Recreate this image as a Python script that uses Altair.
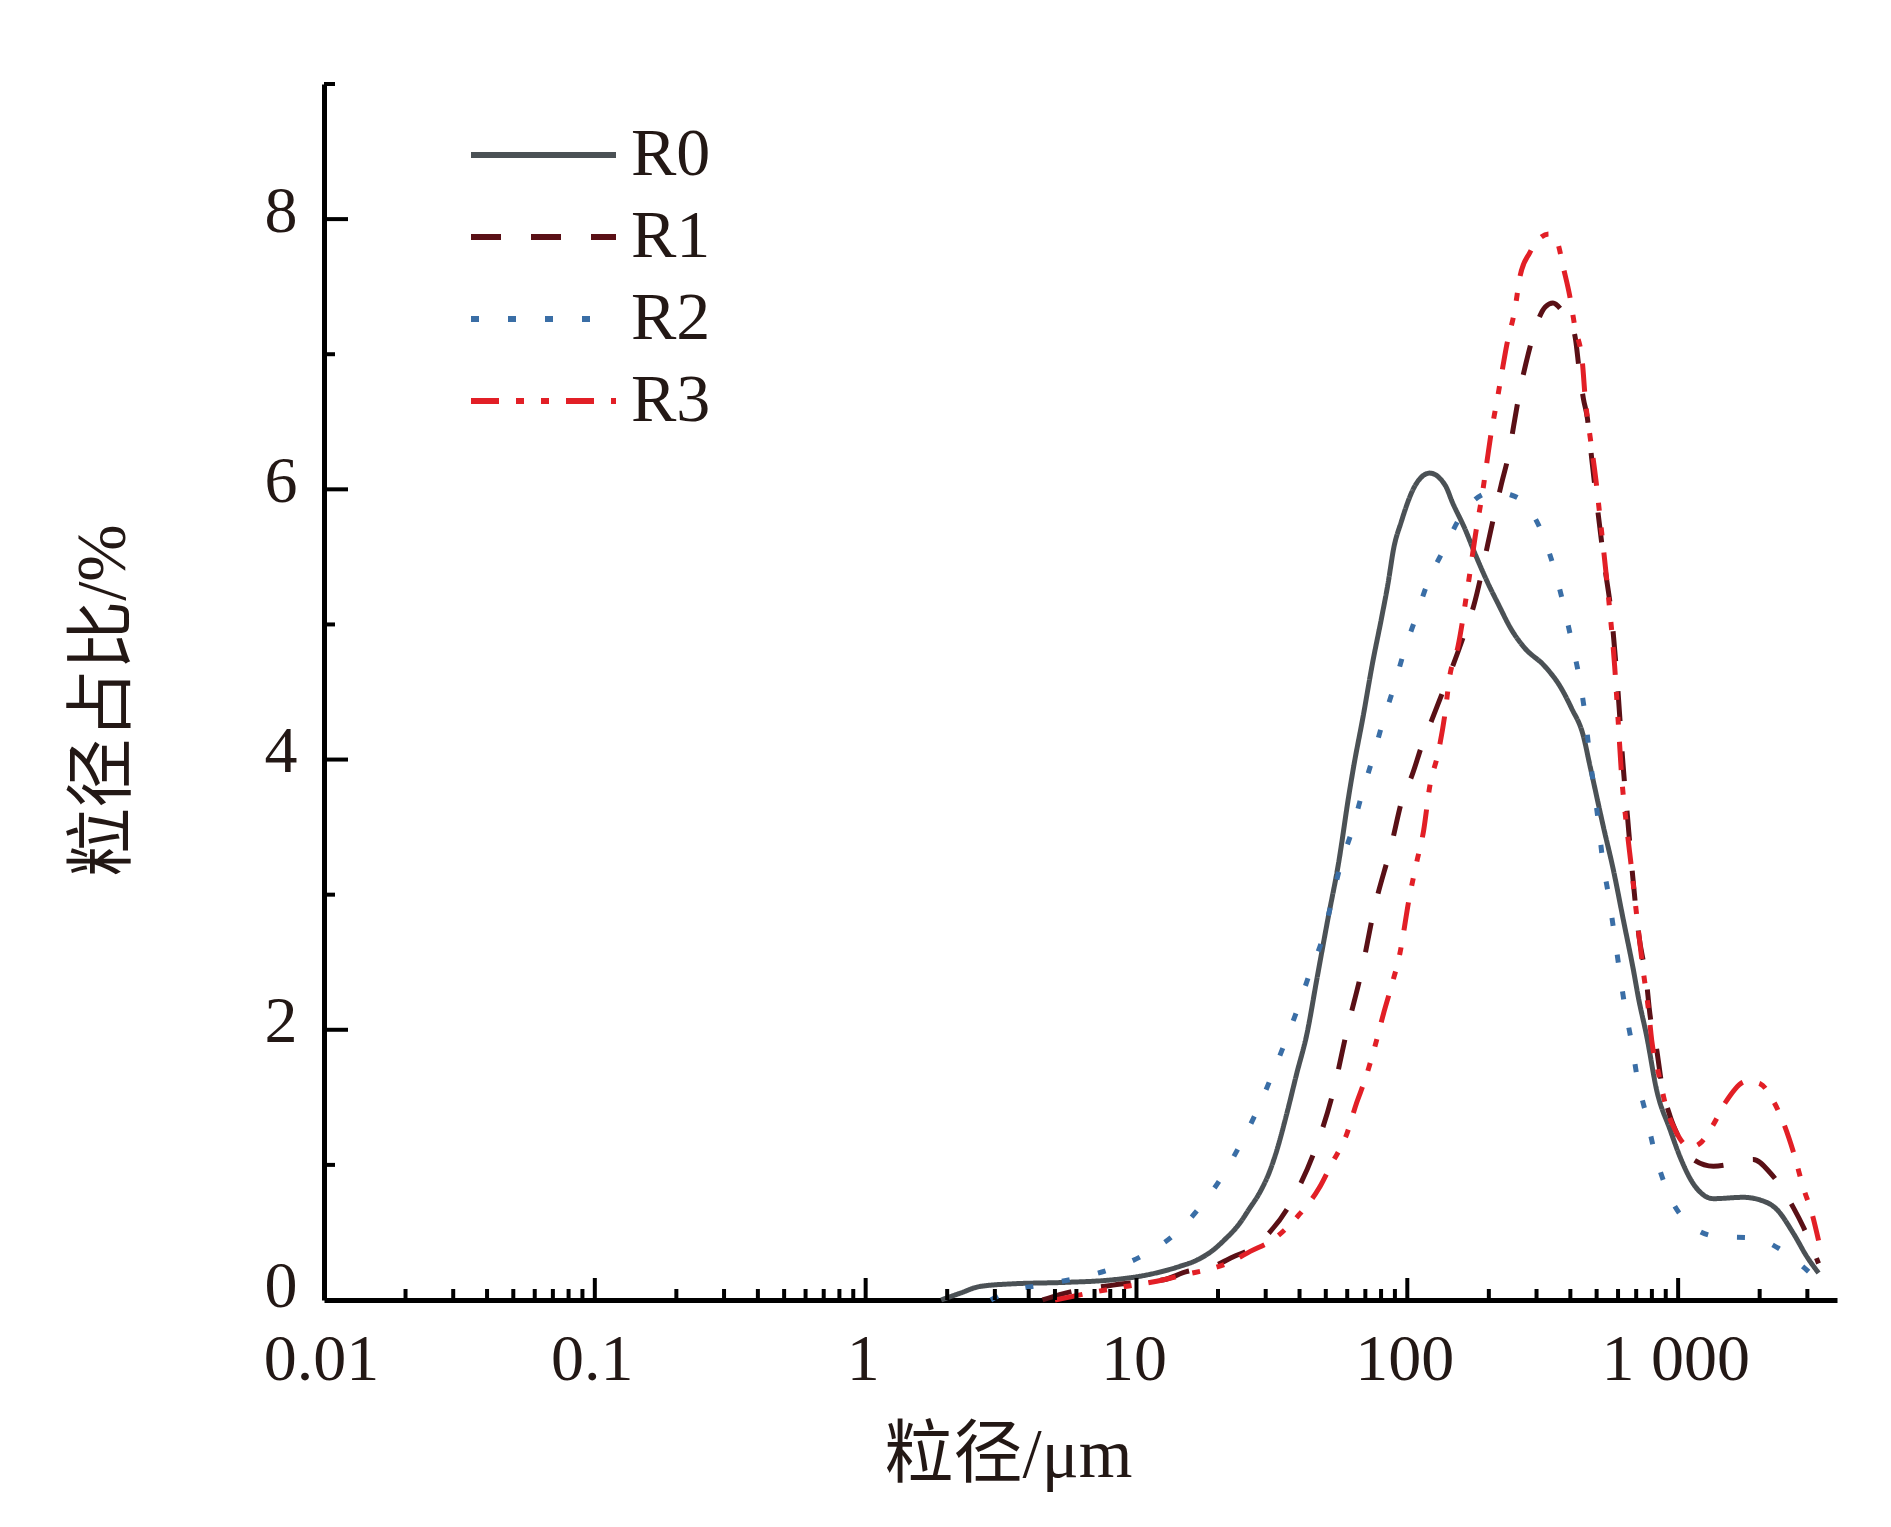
import altair as alt
import pandas as pd

# ---- data ----
series_names = ["R0", "R1", "R2", "R3"]

r0_x = [1.9, 2.23, 2.64, 3.51, 5.37, 8.2, 10.9, 14.5, 16.5, 19.2, 21, 24.1, 26, 28.6, 31,
        33, 35.9, 39.1, 42.6, 46.3, 50.8, 55.7, 61, 63.4, 68.7, 74.5, 80, 85, 89, 95,
        107, 121, 138, 147, 163, 179, 198, 218, 241, 270, 322, 367, 404, 446, 473,
        530, 577, 628, 684, 713, 766, 834, 934, 1016, 1138, 1350, 1742, 2010, 2315, 2670, 2990, 3300]
r0_y = [0.0, 0.05, 0.10, 0.12, 0.13, 0.15, 0.185, 0.25, 0.29, 0.37, 0.44, 0.57, 0.67, 0.80, 0.95,
        1.11, 1.38, 1.68, 1.97, 2.37, 2.81, 3.23, 3.75, 3.95, 4.32, 4.72, 5.03, 5.31, 5.56, 5.76,
        6.03, 6.12, 6.03, 5.90, 5.71, 5.51, 5.31, 5.14, 4.97, 4.83, 4.69, 4.54, 4.38, 4.18, 3.95,
        3.50, 3.18, 2.81, 2.44, 2.24, 1.95, 1.55, 1.26, 1.06, 0.86, 0.75, 0.76, 0.74, 0.67, 0.49, 0.32, 0.20]

r1_x = [4.5, 5.2, 8.2, 10, 12.6, 15.3, 19.2, 22.8, 27, 31, 35.9, 38.5, 45, 53.4, 60.1,
        67.9, 75.4, 86.4, 98, 103, 113, 123, 165, 176, 190, 198, 212, 222, 239, 247,
        261, 274, 323, 345, 377, 398, 418, 432, 447, 462, 480, 501, 534, 570, 600,
        625, 650, 675, 716, 766, 783, 834, 869, 934, 1002, 1138, 1350, 1600, 1895, 2190, 2670, 2900, 3300]
r1_y = [0.0, 0.04, 0.11, 0.13, 0.15, 0.21, 0.25, 0.32, 0.39, 0.50, 0.67, 0.78, 1.08, 1.55, 2.01,
        2.44, 2.89, 3.33, 3.77, 3.86, 4.10, 4.29, 4.97, 5.14, 5.42, 5.59, 5.86, 6.03, 6.30, 6.47,
        6.74, 6.93, 7.35, 7.38, 7.31, 7.25, 7.11, 6.87, 6.67, 6.53, 6.22, 5.90, 5.45, 5.03, 4.50,
        3.98, 3.58, 3.20, 2.70, 2.34, 2.15, 1.85, 1.60, 1.36, 1.21, 1.04, 0.99, 1.01, 1.04, 0.94, 0.68, 0.54, 0.27]

r2_x = [2.9, 3.23, 4.41, 6.0, 8.1, 10.8, 13.9, 17.2, 20.8, 24.3, 28, 31.6, 35.4, 39.6, 43.8,
        48.7, 52.6, 56.5, 62.4, 67.9, 74.5, 81, 89, 97, 107, 119, 136, 161, 207, 240,
        270, 317, 350, 379, 405, 432, 454, 470, 488, 508, 526, 554, 581, 607, 636,
        674, 707, 762, 815, 895, 1031, 1388, 1884, 2445, 3070, 3300]
r2_y = [0.0, 0.05, 0.11, 0.16, 0.23, 0.34, 0.49, 0.69, 0.92, 1.16, 1.41, 1.66, 1.91, 2.17, 2.43,
        2.68, 2.95, 3.21, 3.47, 3.74, 4.01, 4.27, 4.53, 4.79, 5.04, 5.31, 5.55, 5.83, 5.98, 5.96,
        5.90, 5.66, 5.40, 5.13, 4.87, 4.60, 4.32, 4.05, 3.80, 3.53, 3.26, 2.99, 2.71, 2.44, 2.17,
        1.90, 1.64, 1.37, 1.11, 0.85, 0.62, 0.47, 0.46, 0.36, 0.20, 0.14]

r3_x = [5.0, 8.5, 10.5, 12.6, 15.3, 18.7, 22.2, 26.3, 32.1, 39.4, 47.3, 52.3, 59.8, 65, 69.8,
        76, 81.7, 86.4, 94, 102, 108, 115, 121, 130, 138, 143, 154, 167, 180, 189,
        197, 203, 215, 225, 233, 249, 261, 283, 333, 356, 379, 398, 415, 443, 454,
        473, 497, 513, 530, 557, 583, 600, 620, 646, 674, 700, 745, 777, 799, 846, 908, 974,
        1107, 1205, 1350, 1492, 1793, 2010, 2250, 2450, 2670, 2900, 3120, 3300]
r3_y = [0.0, 0.09, 0.12, 0.15, 0.19, 0.23, 0.28, 0.36, 0.45, 0.62, 0.83, 1.0, 1.23, 1.46, 1.63,
        1.88, 2.12, 2.29, 2.57, 2.99, 3.23, 3.48, 3.80, 4.05, 4.35, 4.60, 4.84, 5.27, 5.71, 5.96,
        6.21, 6.39, 6.67, 6.90, 7.07, 7.32, 7.58, 7.75, 7.89, 7.84, 7.62, 7.43, 7.21, 6.94, 6.67,
        6.39, 6.07, 5.82, 5.56, 5.14, 4.69, 4.30, 3.85, 3.50, 3.18, 2.88, 2.42, 2.15, 1.92, 1.68, 1.41, 1.26,
        1.13, 1.16, 1.30, 1.46, 1.62, 1.60, 1.47, 1.31, 1.09, 0.83, 0.64, 0.44]

x_label_values = [0.01, 0.1, 1, 10, 100, 1000]
x_major_ticks = [0.1, 1, 10, 100, 1000]
minor_mults = [2, 3, 4, 5, 6, 7, 8, 9]
decades = [0.01, 0.1, 1, 10, 100, 1000]
y_label_values = [0, 2, 4, 6, 8]
y_major_ticks = [2, 4, 6, 8]
y_minor_ticks = [1, 3, 5, 7, 9]

# ---- build tables ----
rows = []
for name, xs, ys in zip(series_names, [r0_x, r1_x, r2_x, r3_x], [r0_y, r1_y, r2_y, r3_y]):
    for a, b in zip(xs, ys):
        rows.append({"series": name, "x": a, "y": b})
df = pd.DataFrame(rows)

x_minor_ticks = [m * d for d in decades for m in minor_mults if m * d < 3860]

W, H = 1513, 1216
X_MAX = 3860
ink = "#231815"
serif = "Liberation Serif"
cjk = "Liberation Serif, Noto Sans CJK SC"

xscale = alt.Scale(type="log", domain=[0.01, X_MAX], nice=False)
yscale = alt.Scale(domain=[0, 9], nice=False)

xaxis = alt.Axis(values=x_label_values, ticks=False, grid=False,
                 labelExpr="datum.value >= 1000 ? '1 000' : format(datum.value, '~g')",
                 labelFont=serif, labelFontSize=66, labelColor=ink, labelPadding=27,
                 labelOffset=-3, labelFlush=False, labelOverlap=False,
                 domainWidth=5, domainColor="#000000",
                 title="粒径/μm", titleFont=cjk, titleFontSize=69, titleFontWeight="normal",
                 titleColor=ink, titleX=684, titleY=176, titleAlign="center",
                 titleBaseline="alphabetic")
yaxis = alt.Axis(values=y_label_values, ticks=False, grid=False,
                 labelFont=serif, labelFontSize=66, labelColor=ink, labelPadding=27,
                 labelOffset={"condition": {"test": "datum.value === 0", "value": -14}, "value": -8},
                 labelFlush=False, labelOverlap=False,
                 domainWidth=5, domainColor="#000000",
                 title="粒径占比/%", titleFont=cjk, titleFontSize=69, titleFontWeight="normal",
                 titleColor=ink, titleX=-221, titleY=616, titleAngle=270,
                 titleAlign="center", titleBaseline="middle")

colors = ["#4b5155", "#5a1016", "#3a6ea6", "#e21f26"]
dashes = [[1, 0], [30, 30], [8, 29], [28, 17, 8, 17, 8, 17]]

lines = alt.Chart(df).mark_line(strokeWidth=5, interpolate="monotone").encode(
    x=alt.X("x:Q", scale=xscale, axis=xaxis),
    y=alt.Y("y:Q", scale=yscale, axis=yaxis),
    color=alt.Color("series:N", scale=alt.Scale(domain=series_names, range=colors), title=None),
    strokeDash=alt.StrokeDash("series:N", scale=alt.Scale(domain=series_names, range=dashes), title=None),
)

x_major = alt.Chart(pd.DataFrame({"v": x_major_ticks})).mark_rule(strokeWidth=4, color="#000000").encode(
    x=alt.X("v:Q", scale=xscale, axis=xaxis), y=alt.value(H), y2=alt.value(H - 22))
x_minor = alt.Chart(pd.DataFrame({"v": x_minor_ticks})).mark_rule(strokeWidth=4, color="#000000").encode(
    x=alt.X("v:Q", scale=xscale, axis=xaxis), y=alt.value(H), y2=alt.value(H - 11))
y_major = alt.Chart(pd.DataFrame({"v": y_major_ticks})).mark_rule(strokeWidth=4, color="#000000").encode(
    y=alt.Y("v:Q", scale=yscale, axis=yaxis), x=alt.value(0), x2=alt.value(24))
y_minor = alt.Chart(pd.DataFrame({"v": y_minor_ticks})).mark_rule(strokeWidth=4, color="#000000").encode(
    y=alt.Y("v:Q", scale=yscale, axis=yaxis), x=alt.value(0), x2=alt.value(11))

chart = alt.layer(lines, x_minor, x_major, y_minor, y_major).properties(
    width=W, height=H,
    autosize=alt.AutoSizeParams(type="none"),
    padding={"left": 316, "top": 76, "right": 46, "bottom": 219},
    background="#ffffff",
).configure_view(stroke=None).configure_legend(
    orient="none", legendX=144, legendY=46, padding=0,
    symbolType="stroke", symbolSize=21025, symbolStrokeWidth=6,
    labelFont=serif, labelFontSize=68, labelColor=ink, labelOffset=12,
    clipHeight=50, rowPadding=14, labelBaseline="middle",
)

chart.save("out.html", embed_options={"renderer": "svg", "actions": False})
